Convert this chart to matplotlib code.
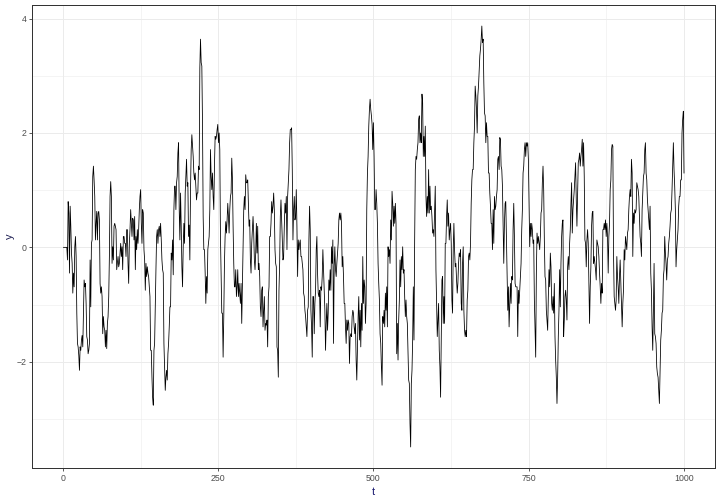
#serie de tiempo estilo ggplot theme_bw

import numpy as np
import matplotlib.pyplot as plt

plt.rcParams['font.family'] = ['Liberation Sans', 'DejaVu Sans']

# valores, por tramos de t
y_a = [0.00, 0.00, 0.00, 0.00, 0.00, 0.00, -0.22, 0.80, 0.60, -0.45, 0.72, 0.37, -0.10, -0.28, -0.80, -0.45,
       -0.69, 0.01, 0.19, -0.16, -1.15, -1.68, -1.74, -1.89, -2.15, -1.74, -1.80, -1.62, -1.54, -1.74, -1.15, -0.57,
       -0.69, -0.63, -0.98, -1.56, -1.62, -1.86, -1.80, -1.68, -0.22, -1.04, 0.07, 0.13, 1.24, 1.42, 1.18, 0.89,
       0.13, 0.42, 0.63, 0.13, 0.60, 0.63, 0.48, -0.63, -0.80, -0.69, -0.86, -1.51, -1.21, -1.39, -1.45, -1.74,
       -1.45, -1.77, -1.33, -1.21, -0.86, -0.16, 0.89, 1.15, 0.89, -0.28, 0.01, -0.22, 0.37, 0.42, 0.37, 0.31,
       -0.39, -0.28, -0.16, -0.34, -0.28, -0.10, 0.07, -0.16, 0.01, -0.39, 0.19, 0.19, 0.07, 0.07, -0.16, 0.31,
       0.31, -0.28, -0.63, 0.07, 0.31, 0.66, 0.42, 0.19, 0.51, 0.48, 0.13, 0.54, -0.39, 0.19, -0.04, 0.31,
       0.07, 0.31, 0.66, 0.89, 1.01, 0.42, 0.07, 0.66, 0.60, -0.04, -0.22, -0.75, -0.28, -0.51, -0.34, -0.45,
       -0.51, -0.69, -0.86, -1.80, -1.80, -2.27, -2.62, -2.76, -1.80, -1.68, -0.98, -0.39, 0.19, 0.31, 0.07, 0.31,
       0.37, 0.19, 0.42, 0.13, -0.22, -0.39, -0.45, -1.68, -2.06]
y_b = [-2.50, -2.27, -2.15, -2.32, -1.86, -1.68, -1.39, -1.04, -1.04, -0.10, -0.22, 0.13, -0.48, 0.66, 1.07, 1.07,
       0.66, 1.13, 1.24, 1.65, 1.83, 0.66, 0.13, 0.95, 0.37, -0.34, -0.69, 0.01, 0.42, 0.07, 0.95, 1.24,
       1.54, 1.07, 1.13, 0.19, 0.39, -0.22, 1.01, 1.71, 1.97, 1.77, 1.59, 1.30, 1.18, 1.30, 1.07, 0.83,
       0.95, 0.95, 1.42, 1.36, 3.14, 3.64, 3.23, 3.17, 2.18, 0.54, -0.04, -0.04, -0.45, -0.98, -0.51, -0.80,
       -0.04, 0.07, 0.19, 0.66, 1.71, 1.24, 1.01, 1.30, 0.89, 0.66, 1.42, 1.94, 1.89, 1.94, 2.06, 2.15,
       1.83, 2.00, 1.71, 0.19, -0.51, -1.15, -1.15, -1.92, -1.21, -0.28, 0.19, 0.45, 0.25, 0.48, 0.77, 0.54,
       0.25, 0.66, 0.89, 0.95, 1.56, 1.21, 0.37, -0.28, -0.69, -0.69, -0.39, -0.86, -0.69, -0.39, -0.86, -0.63,
       -0.80, -0.98, -0.63, -1.33, -0.63, -0.04, 0.66, 0.89, 0.66, 1.27, 1.13, 1.13, 1.18, 0.77, 0.37, 0.48,
       -0.22, -0.45, 0.07, 0.31, 0.54, 0.25, -0.22, -0.39, -0.10, 0.42, -0.10, 0.37, -0.39, -0.28, -0.51, -1.04,
       -1.21, -0.75, -0.69, -1.39, -1.10, -0.86, -1.45, -1.33, -1.36, -1.27, -1.74, -0.86, -0.69, 0.19]
y_c = [0.19, 0.42, 0.80, 0.60, 0.72, 0.95, 0.66, -0.04, -0.28, -0.34, -1.74, -1.80, -2.27, -0.75, -0.28, 0.54,
       0.83, 0.48, 0.13, -0.22, -0.16, 0.37, 0.77, 0.60, 0.89, -0.04, 0.89, 1.13, 1.36, 1.83, 2.06, 2.06,
       2.09, 1.36, 0.13, 0.66, 0.89, 0.48, 0.54, 1.01, 0.37, -0.51, 0.13, -0.04, 0.07, 0.13, -0.16, -0.16,
       -0.28, -0.39, -0.80, -0.86, -1.10, -1.21, -1.39, -1.56, -1.10, -1.04, 0.13, 0.72, 0.31, -1.10, -1.39, -1.92,
       -0.86, -0.86, -1.51, -0.98, -0.75, -0.04, 0.19, -0.45, -0.80, -0.86, -0.75, -1.39, -0.69, -0.75, -0.51, -0.04,
       -0.39, -0.69, -1.10, -1.80, -1.33, -0.98, -1.45, -1.15, -0.57, -0.75, -0.39, -0.75, 0.01, -0.28, 0.13, -1.68,
       -0.34, 0.01, -0.39, -0.51, -0.28, -0.10, 0.07, 0.48, 0.60, 0.48, 0.60, 0.42, -0.34, -0.16, -0.51, -0.98,
       -0.98, -1.39, -1.68, -1.27, -1.45, -1.27, -1.33, -2.03, -1.56, -1.51, -1.56, -1.21, -1.10, -1.15, -1.39, -1.51,
       -1.33, -1.97, -2.32, -1.80, -1.21, -0.86, -1.62, -1.10, -1.74, -0.98, -1.45, -0.16, -0.98, -0.57, -0.69, -1.33,
       -0.98, 0.66, 1.30, 1.59, 2.12, 2.41, 2.59, 2.41, 2.30, 2.15, 1.71, 2.18, 1.59, 0.66]
y_d = [0.66, 1.01, 0.77, 0.42, -0.28, -0.63, -0.92, -1.51, -1.68, -2.09, -2.41, -1.21, -1.33, -1.10, -1.39, -0.80,
       -1.10, -0.69, -1.39, 0.01, -0.16, -0.04, -0.28, 0.48, 0.13, 0.98, 0.77, 0.37, 0.72, 0.42, 0.77, 0.42,
       -1.86, -1.33, -1.97, -1.27, -0.92, -0.22, -0.69, -0.16, -0.39, 0.01, -0.45, -0.39, -0.86, -1.21, -0.92, -1.21,
       -1.33, -1.80, -2.32, -2.38, -3.08, -3.49, -2.38, -2.15, -1.62, -0.69, -1.62, 0.13, 1.36, 1.59, 1.54, 1.71,
       1.83, 2.24, 2.30, 1.83, 2.00, 1.83, 2.68, 2.53, 1.59, 1.94, 1.59, 2.12, 0.89, 0.54, 0.89, 0.60,
       1.36, 0.60, 1.07, 0.66, 0.72, 0.54, 0.25, 0.31, 0.19, 0.66, 1.07, -0.39, -0.98, -1.56, -1.27, -0.98,
       -1.80, -2.09, -2.62, -1.62, -0.57, -0.51, -1.33, -0.86, -1.33, 0.07, 0.07, 0.54, 0.83, 0.37, 0.60, 0.13,
       0.31, 0.42, 0.07, -0.92, -1.15, -0.04, 0.42, -0.04, -0.34, -0.28, -0.57, -0.80, -0.63, -0.28, -0.10, -0.16,
       -0.04, -0.98, -1.10, -0.28, 0.01, -1.10, -1.45, -1.56, -1.45, -1.56, -0.92, -0.75, -0.16, -0.10, -0.22, 0.07,
       0.77, 1.18, 1.36, 1.36, 1.83, 2.12, 2.82, 2.65, 2.41, 2.00, 2.65, 2.82, 3.08, 3.35]
y_e = [3.47, 3.64, 3.87, 3.58, 3.64, 2.88, 2.35, 2.30, 1.83, 2.18, 1.94, 1.94, 1.30, 1.30, 0.95, 0.72,
       0.42, 0.42, -0.04, 0.66, 0.07, 0.89, 0.66, 0.72, 0.89, 1.01, 1.54, 1.59, 1.36, 1.92, 1.89, 1.42,
       1.36, 1.07, 0.37, -0.28, 0.42, 0.77, 0.80, 0.13, -0.57, -1.10, -0.69, -1.39, -0.98, -0.63, -0.98, -0.51,
       -0.57, 0.31, 0.77, 0.19, -0.63, -0.69, -0.69, -0.69, -1.56, -0.75, -0.98, -0.75, -0.51, -0.28, 0.31, 0.66,
       1.30, 1.42, 1.71, 1.83, 1.59, 1.83, 1.77, 1.83, 1.54, 0.83, 0.01, 0.42, 0.19, 0.42, 0.31, 0.07,
       0.13, -0.92, -1.45, -1.92, -0.45, 0.25, 0.07, 0.19, 0.07, -0.04, 0.19, 0.60, 0.66, 1.13, 1.42, 1.01,
       0.13, -0.51, -0.57, -1.10, -1.27, -1.45, -0.86, -0.39, -0.69, -0.10, -0.34, -0.98, -1.10, -0.86, -1.15, -0.63,
       -1.56, -1.97, -2.27, -2.73, -2.27, -1.56, -1.10, -0.39, -1.04, -0.28, 0.19, 0.42, 0.48, -1.56, -1.27, -0.86,
       -0.75, -0.92, -1.27, -0.34, -0.16, -0.39, 0.07, 0.31, 0.77, 1.13, 0.25, 0.66, 0.83, 1.01, 1.24, 1.48,
       0.83, 0.37, 0.89, 1.48, 1.54, 1.65, 1.42, 1.59, 1.71, 1.89, 1.42, 1.83, 1.24, 0.13]
y_f = [0.07, -0.34, 0.13, 0.31, 0.07, -0.69, -1.33, -0.69, -0.34, 0.37, 0.60, 0.63, -0.28, -0.16, -0.28, -0.39,
       -0.57, 0.13, 0.07, 0.01, -0.16, -0.45, -0.69, -0.98, -0.63, -0.80, 0.31, 0.31, 0.42, 0.31, 0.48, 0.19,
       0.42, 0.19, -0.45, 0.19, 0.42, 1.01, 1.18, 1.71, 1.80, 1.77, -0.10, -0.86, -0.98, -1.10, -0.92, -0.16,
       -0.51, -0.69, -0.98, -0.51, -0.22, -0.63, -0.98, -1.39, -0.98, -0.75, -0.04, -0.22, 0.19, 0.07, -0.04, 0.25,
       0.31, 0.66, 0.89, 1.01, 0.89, 1.54, 1.30, -0.16, 0.60, 0.42, 0.66, 0.60, 0.66, 1.13, 1.07, 1.01,
       0.89, 0.54, 0.19, 0.07, -0.16, 0.66, 0.95, 1.24, 1.30, 1.71, 1.83, 1.30, 1.18, 0.83, 0.66, 0.48,
       0.31, 0.72, -0.45, -0.75, -1.39, -1.80, -1.10, -0.28, -1.51, -1.56, -1.68, -2.09, -2.21, -2.27, -2.50, -2.73,
       -2.21, -1.62, -1.45, -1.15, -1.10, -0.51, -0.39, 0.19, -0.10, -0.28, -0.57, -0.22, -0.16, 0.07, 0.19, 0.37,
       0.60, 0.66, 1.01, 1.42, 1.83, 1.36, 1.07, 0.66, -0.34, -0.04, 0.13, 0.31, 0.72, 0.89, 0.89, 1.18,
       1.18, 2.00, 2.24, 2.38, 1.30]

y = np.array(y_a + y_b + y_c + y_d + y_e + y_f)
t = np.linspace(1, 1000, len(y))

x_breaks = [0, 250, 500, 750, 1000]
y_breaks = [-2, 0, 2, 4]

fig = plt.figure(figsize=(10, 7), dpi=72)
ax = fig.add_axes([0.0451, 0.0714, 0.948, 0.9187])

ax.plot(t, y, color='black', linewidth=0.8)

# limites con expansion de 5% como ggplot
xr = t.max() - t.min()
yr = y.max() - y.min()
ax.set_xlim(t.min() - 0.05 * xr, t.max() + 0.05 * xr)
ax.set_ylim(y.min() - 0.05 * yr, y.max() + 0.05 * yr)

ax.set_xticks(x_breaks)
ax.set_yticks(y_breaks)
ax.set_xticks([125, 375, 625, 875], minor=True)
ax.set_yticks([-3, -1, 1, 3], minor=True)
ax.grid(which='major', color='#EBEBEB', linewidth=1.0)
ax.grid(which='minor', color='#EBEBEB', linewidth=0.5)
ax.set_axisbelow(True)

for s in ax.spines.values():
    s.set_color('#333333')
    s.set_linewidth(1.0)

ax.tick_params(which='major', length=3, width=0.8, color='#333333', labelcolor='#4D4D4D', labelsize=8.8, pad=3)
ax.tick_params(which='minor', length=0)

ax.set_xlabel('t', color='#1a1a70', fontsize=11, labelpad=4)
ax.set_ylabel('y', color='#1a1a50', fontsize=11, labelpad=2)

fig.savefig('out.png', dpi=72)
